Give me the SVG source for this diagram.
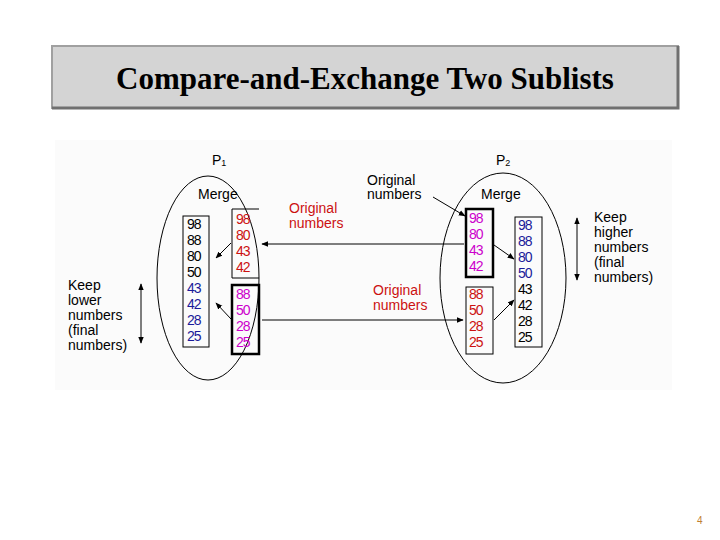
<svg xmlns="http://www.w3.org/2000/svg" width="720" height="540" viewBox="0 0 720 540">
<defs>
<marker id="ah" viewBox="0 0 10 10" refX="9" refY="5" markerWidth="7" markerHeight="7" orient="auto-start-reverse" markerUnits="userSpaceOnUse"><path d="M0,1 L10,5 L0,9 z" fill="#000"/></marker>
</defs>
<style>
text{font-family:"Liberation Sans",Arial,sans-serif;font-size:14px}
.n{font-size:16px;letter-spacing:-1px}
.k{fill:#000}.r{fill:#cc1111}.m{fill:#cc00cc}.b{fill:#1a1a99}
.box{fill:none;stroke:#000;stroke-width:1}
.tb{fill:none;stroke:#000;stroke-width:2.5}
.ar{stroke:#000;stroke-width:1;fill:none;marker-end:url(#ah)}
.da{stroke:#000;stroke-width:1;fill:none;marker-end:url(#ah);marker-start:url(#ah)}
</style>
<rect width="720" height="540" fill="#fff"/>
<g id="title">
<rect x="52" y="46" width="626" height="62" fill="#d4d4d4" stroke="#a0a0a0" stroke-width="2"/>
<path d="M52,108 L678,108 L678,46" fill="none" stroke="#707070" stroke-width="3"/>
<text x="365" y="89" text-anchor="middle" style="font-family:'Liberation Serif','Times New Roman',serif;font-size:31px;font-weight:bold">Compare-and-Exchange Two Sublists</text>
</g>
<rect x="55" y="140" width="617" height="250" fill="#fbfbfb"/>
<g id="P1">
<ellipse cx="208" cy="278" rx="51" ry="102" class="box"/>
<text x="212" y="165" font-size="16">P<tspan font-size="9" dy="1">1</tspan></text>
<text x="198" y="199" font-size="16">Merge</text>
</g>
<g id="P2">
<ellipse cx="503" cy="278" rx="63" ry="105" class="box"/>
<text x="496" y="165" font-size="16">P<tspan font-size="9" dy="1">2</tspan></text>
<text x="481" y="199" font-size="16">Merge</text>
</g>
<g id="p1final">
<rect x="183" y="216" width="26" height="131" class="box"/>
<g class="n"><text x="187" y="229" class="k">98</text><text x="187" y="245" class="k">88</text><text x="187" y="261" class="k">80</text><text x="187" y="277" class="k">50</text><text x="187" y="293" class="b">43</text><text x="187" y="309" class="b">42</text><text x="187" y="325" class="b">28</text><text x="187" y="341" class="b">25</text></g>
</g>
<g id="p1orig">
<path d="M259,209 L232,209 L232,278 L259,278" class="box"/>
<g class="n"><text x="236" y="224" class="r">98</text><text x="236" y="240" class="r">80</text><text x="236" y="256" class="r">43</text><text x="236" y="272" class="r">42</text></g>
</g>
<g id="p1recv">
<rect x="232" y="285" width="27" height="69" class="tb"/>
<g class="n"><text x="236" y="299" class="m">88</text><text x="236" y="315" class="m">50</text><text x="236" y="331" class="m">28</text><text x="236" y="347" class="m">25</text></g>
</g>
<g id="p2recv">
<rect x="466" y="209" width="27" height="68" class="tb"/>
<g class="n"><text x="469" y="223" class="m">98</text><text x="469" y="239" class="m">80</text><text x="469" y="255" class="m">43</text><text x="469" y="271" class="m">42</text></g>
</g>
<g id="p2orig">
<rect x="466" y="287" width="27" height="67" class="box"/>
<g class="n"><text x="469" y="299" class="r">88</text><text x="469" y="315" class="r">50</text><text x="469" y="331" class="r">28</text><text x="469" y="347" class="r">25</text></g>
</g>
<g id="p2final">
<rect x="515" y="217" width="27" height="130" class="box"/>
<g class="n"><text x="518" y="230" class="b">98</text><text x="518" y="246" class="b">88</text><text x="518" y="262" class="b">80</text><text x="518" y="278" class="b">50</text><text x="518" y="294" class="k">43</text><text x="518" y="310" class="k">42</text><text x="518" y="326" class="k">28</text><text x="518" y="342" class="k">25</text></g>
</g>
<g id="labels">
<text x="289" y="213" class="r">Original</text><text x="289" y="228" class="r">numbers</text>
<text x="367" y="185">Original</text><text x="367" y="199">numbers</text>
<text x="373" y="295" class="r">Original</text><text x="373" y="310" class="r">numbers</text>
<text x="68" y="290">Keep</text><text x="68" y="305">lower</text><text x="68" y="320">numbers</text><text x="68" y="335">(final</text><text x="68" y="350">numbers)</text>
<text x="594" y="222">Keep</text><text x="594" y="237">higher</text><text x="594" y="252">numbers</text><text x="594" y="267">(final</text><text x="594" y="282">numbers)</text>
</g>
<g id="connectors">
<line x1="464" y1="244" x2="262" y2="244" class="ar"/>
<line x1="262" y1="320" x2="463" y2="320" class="ar"/>
<line x1="231" y1="243" x2="216" y2="258" class="ar"/>
<line x1="231" y1="319" x2="216" y2="303" class="ar"/>
<line x1="494" y1="245" x2="514" y2="259" class="ar"/>
<line x1="494" y1="320" x2="514" y2="300" class="ar"/>
<line x1="433" y1="197" x2="465" y2="216" class="ar"/>
<line x1="141" y1="284" x2="141" y2="343" class="da"/>
<line x1="577" y1="218" x2="577" y2="280" class="da"/>
</g>
<text x="697" y="524" style="font-size:10px;fill:#c08030">4</text>
</svg>
